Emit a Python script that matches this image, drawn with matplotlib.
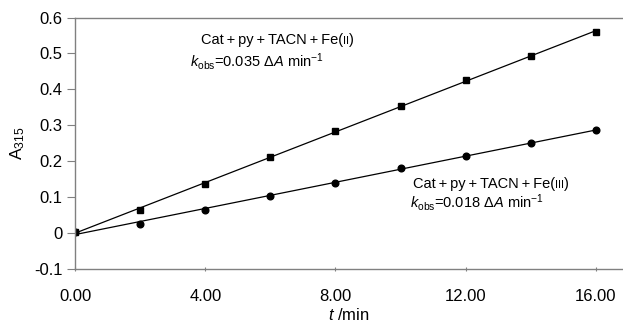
import matplotlib
matplotlib.use("Agg")
import matplotlib.pyplot as plt
import numpy as np

# data
t_min = [0, 2, 4, 6, 8, 10, 12, 14, 16]
abs_fe2 = [0.003, 0.064, 0.137, 0.211, 0.284, 0.354, 0.425, 0.494, 0.559]
abs_fe3 = [0.003, 0.026, 0.064, 0.103, 0.140, 0.180, 0.215, 0.251, 0.286]
x_ticks = [0, 4, 8, 12, 16]
y_ticks = [-0.1, 0, 0.1, 0.2, 0.3, 0.4, 0.5, 0.6]

plt.rcParams['font.family'] = ['Liberation Sans', 'DejaVu Sans']
plt.rcParams['mathtext.fontset'] = 'custom'
plt.rcParams['mathtext.rm'] = 'Liberation Sans'
plt.rcParams['mathtext.it'] = 'Liberation Sans:italic'
plt.rcParams['mathtext.bf'] = 'Liberation Sans:bold'

fig = plt.figure(figsize=(6.23, 3.23), dpi=100)
ax = fig.add_axes([0.1204, 0.168, 0.8796, 0.7778])

t = np.array(t_min)
for vals, marker, ms in [(abs_fe2, 's', 5), (abs_fe3, 'o', 4.8)]:
    slope, icpt = np.polyfit(t, vals, 1)
    ax.plot(t, slope * t + icpt, color='black', lw=0.9)
    ax.plot(t, vals, linestyle='none', marker=marker, ms=ms, color='black')

ax.set_xlim(0, 16.83)
ax.set_ylim(-0.1, 0.6)
ax.set_xticks(x_ticks)
ax.set_xticklabels(['%.2f' % v for v in x_ticks])
ax.set_yticks(y_ticks)
ax.set_yticklabels(['%g' % v for v in y_ticks])

grey = '#808080'
for s in ['left', 'bottom', 'top']:
    ax.spines[s].set_color(grey)
    ax.spines[s].set_linewidth(1.0)
ax.spines['right'].set_visible(False)
ax.tick_params(axis='y', direction='out', length=6, color=grey, labelsize=12, pad=3)
ax.tick_params(axis='x', direction='inout', length=3, color=grey, labelsize=12, pad=13)

ax.set_ylabel(r'$\mathregular{A_{315}}$', fontsize=12.5, labelpad=5)
ax.set_xlabel(r'$t$ /min', fontsize=12, labelpad=2)


def fe_label(x, y, base, roman):
    t1 = ax.text(x, y, base, transform=fig.transFigure, fontsize=10.5, va='baseline')
    t2 = ax.annotate(roman, xy=(1, 0), xycoords=t1, fontsize=8,
                     xytext=(0, 0.6), textcoords='offset points', va='bottom')
    ax.annotate(')', xy=(1, 0), xycoords=t2, fontsize=10.5,
                xytext=(0, -0.6), textcoords='offset points', va='bottom')


plus = '\u2009+\u2009'
base_txt = 'Cat' + plus + 'py' + plus + 'TACN' + plus + 'Fe('
fe_label(201 / 623, 1 - 44 / 323, base_txt, 'II')
fig.text(190 / 623, 1 - 67 / 323, r'$k_{\rm obs}$=0.035 $\mathit{\Delta A}$ min$^{-1}$', fontsize=10.5)
fe_label(413 / 623, 1 - 188 / 323, base_txt, 'III')
fig.text(410 / 623, 1 - 208 / 323, r'$k_{\rm obs}$=0.018 $\mathit{\Delta A}$ min$^{-1}$', fontsize=10.5)

fig.savefig('out.png', dpi=100)
